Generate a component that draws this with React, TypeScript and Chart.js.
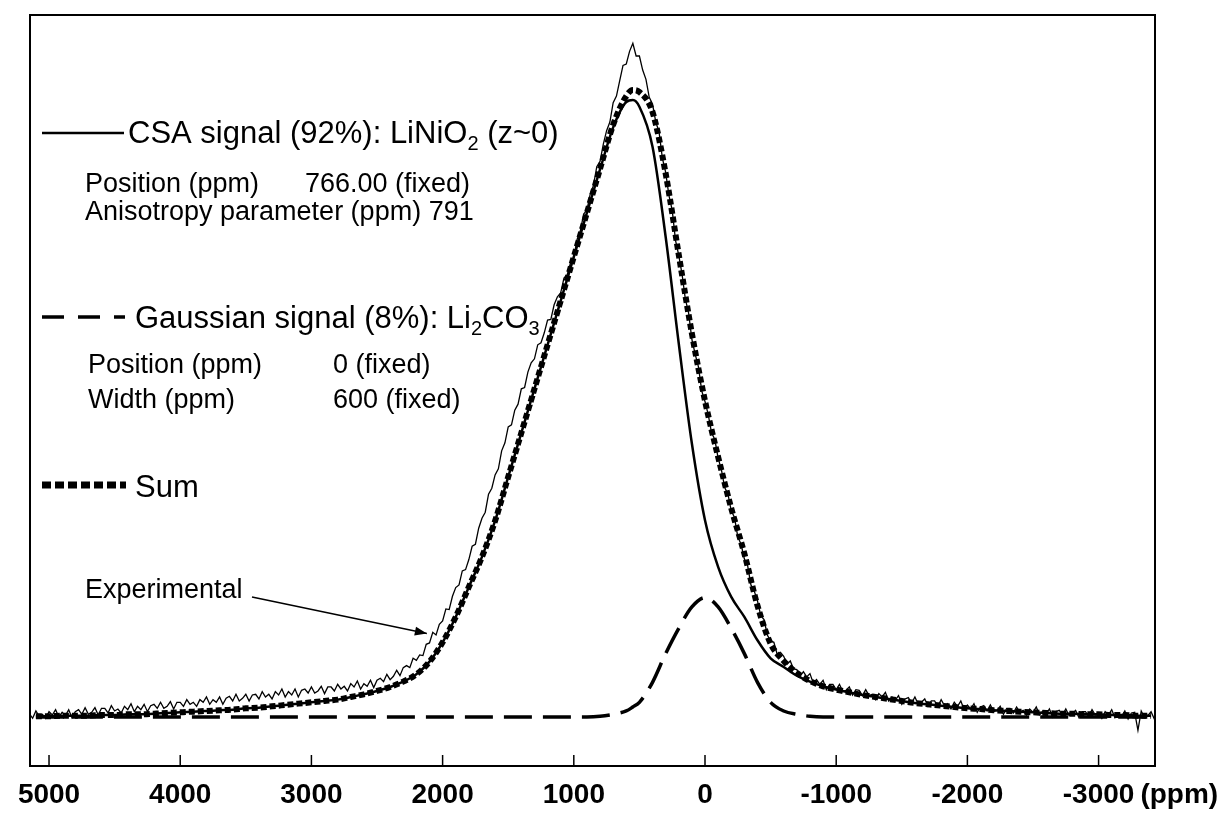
import React, { useEffect, useRef } from "react";
import { Chart, registerables } from "chart.js";

Chart.register(...registerables);

// Chemical shift grid (ppm) for the fitted model curves
const modelPpm = [
  5100, 5000, 4900, 4800, 4700, 4600, 4500, 4400, 4300, 4200,
  4100, 4000, 3900, 3800, 3700, 3600, 3500, 3400, 3300, 3200,
  3100, 3000, 2900, 2800, 2700, 2600, 2500, 2400, 2300, 2200,
  2100, 2000, 1900, 1800, 1700, 1600, 1500, 1400, 1300, 1200,
  1100, 1000, 900, 800, 700, 600, 550, 500, 400, 300,
  200, 100, 0, -100, -200, -300, -400, -500, -600, -700,
  -800, -900, -1000, -1100, -1200, -1300, -1400, -1500, -1600, -1700,
  -1800, -1900, -2000, -2100, -2200, -2300, -2400, -2500, -2600, -2700,
  -2800, -2900, -3000, -3100, -3200, -3300, -3400,
];

// CSA signal (92%): LiNiO2
const csaSignal = [
  0.001, 0.001, 0.002, 0.002, 0.002, 0.003, 0.003, 0.004, 0.004, 0.005,
  0.006, 0.007, 0.008, 0.009, 0.010, 0.011, 0.013, 0.014, 0.016, 0.018,
  0.020, 0.022, 0.024, 0.026, 0.030, 0.034, 0.039, 0.045, 0.053, 0.064,
  0.083, 0.112, 0.150, 0.195, 0.240, 0.294, 0.360, 0.426, 0.492, 0.558,
  0.624, 0.690, 0.756, 0.821, 0.884, 0.922, 0.925, 0.915, 0.855, 0.720,
  0.560, 0.410, 0.295, 0.225, 0.180, 0.150, 0.115, 0.088, 0.075, 0.062,
  0.053, 0.046, 0.041, 0.037, 0.033, 0.030, 0.027, 0.024, 0.021, 0.019,
  0.017, 0.015, 0.013, 0.012, 0.010, 0.009, 0.008, 0.007, 0.006, 0.005,
  0.005, 0.004, 0.004, 0.003, 0.003, 0.002, 0.002,
];

// Gaussian signal (8%): Li2CO3
const gaussianSignal = [
  0, 0, 0, 0, 0, 0, 0, 0, 0, 0,
  0, 0, 0, 0, 0, 0, 0, 0, 0, 0,
  0, 0, 0, 0, 0, 0, 0, 0, 0, 0,
  0, 0, 0, 0, 0, 0, 0, 0, 0, 0,
  0, 0, 0, 0.001, 0.004, 0.009, 0.015, 0.022, 0.052, 0.095,
  0.133, 0.165, 0.179, 0.165, 0.133, 0.095, 0.052, 0.022, 0.009, 0.004,
  0.001, 0, 0, 0, 0, 0, 0, 0, 0, 0,
  0, 0, 0, 0, 0, 0, 0, 0, 0, 0,
  0, 0, 0, 0, 0, 0, 0,
];

// Sum of both fitted signals
const sumSignal = [
  0.001, 0.001, 0.002, 0.002, 0.002, 0.003, 0.003, 0.004, 0.004, 0.005,
  0.006, 0.007, 0.008, 0.009, 0.010, 0.011, 0.013, 0.014, 0.016, 0.018,
  0.020, 0.022, 0.024, 0.026, 0.030, 0.034, 0.039, 0.045, 0.053, 0.064,
  0.083, 0.112, 0.150, 0.195, 0.240, 0.294, 0.360, 0.426, 0.492, 0.558,
  0.624, 0.690, 0.756, 0.822, 0.888, 0.931, 0.940, 0.937, 0.907, 0.815,
  0.693, 0.575, 0.474, 0.390, 0.313, 0.245, 0.167, 0.110, 0.084, 0.066,
  0.054, 0.046, 0.041, 0.037, 0.033, 0.030, 0.027, 0.024, 0.021, 0.019,
  0.017, 0.015, 0.013, 0.012, 0.010, 0.009, 0.008, 0.007, 0.006, 0.005,
  0.005, 0.004, 0.004, 0.003, 0.003, 0.002, 0.002,
];

// Experimental spectrum, sampled every 25 ppm starting at 5150 ppm
const expStartPpm = 5150;
const expStepPpm = 25;
const experimental = [
  0.005, -0.002, 0.009, 0.001, 0.004, -0.002, 0.008, 0.003, 0.011, 0.000, 0.007, 0.002, 0.011, -0.001, 0.008, 0.011, 0.004, 0.014, 0.004, 0.007, 0.014, 0.003, 0.013,
  0.013, 0.006, 0.017, 0.009, 0.012, 0.006, 0.016, 0.011, 0.020, 0.008, 0.016, 0.011, 0.019, 0.008, 0.017, 0.019, 0.013, 0.022, 0.013, 0.016, 0.023, 0.012, 0.022,
  0.022, 0.016, 0.026, 0.019, 0.022, 0.016, 0.026, 0.022, 0.030, 0.019, 0.026, 0.022, 0.030, 0.019, 0.028, 0.031, 0.024, 0.034, 0.024, 0.028, 0.034, 0.024, 0.033,
  0.034, 0.027, 0.038, 0.030, 0.034, 0.027, 0.038, 0.033, 0.042, 0.030, 0.038, 0.033, 0.042, 0.030, 0.040, 0.042, 0.036, 0.045, 0.036, 0.039, 0.046, 0.035, 0.045,
  0.045, 0.039, 0.049, 0.042, 0.046, 0.039, 0.050, 0.045, 0.054, 0.042, 0.050, 0.046, 0.055, 0.044, 0.055, 0.058, 0.053, 0.064, 0.056, 0.061, 0.070, 0.062, 0.074,
  0.077, 0.074, 0.088, 0.085, 0.093, 0.092, 0.109, 0.111, 0.127, 0.123, 0.139, 0.144, 0.162, 0.161, 0.181, 0.194, 0.198, 0.219, 0.221, 0.236, 0.256, 0.259, 0.283,
  0.298, 0.307, 0.334, 0.343, 0.363, 0.372, 0.399, 0.411, 0.435, 0.438, 0.460, 0.469, 0.492, 0.494, 0.517, 0.531, 0.537, 0.558, 0.561, 0.576, 0.595, 0.596, 0.618,
  0.630, 0.636, 0.658, 0.663, 0.681, 0.689, 0.716, 0.729, 0.754, 0.760, 0.784, 0.797, 0.825, 0.833, 0.859, 0.879, 0.892, 0.921, 0.931, 0.954, 0.977, 0.979, 0.998,
  1.010, 0.991, 0.991, 0.970, 0.956, 0.929, 0.919, 0.892, 0.877, 0.838, 0.817, 0.782, 0.760, 0.715, 0.692, 0.664, 0.627, 0.606, 0.566, 0.544, 0.525, 0.489, 0.473,
  0.453, 0.426, 0.416, 0.388, 0.371, 0.344, 0.334, 0.309, 0.299, 0.270, 0.259, 0.237, 0.227, 0.198, 0.189, 0.174, 0.152, 0.146, 0.123, 0.114, 0.112, 0.094, 0.097,
  0.091, 0.079, 0.084, 0.072, 0.071, 0.061, 0.068, 0.060, 0.065, 0.051, 0.056, 0.049, 0.055, 0.041, 0.049, 0.049, 0.041, 0.049, 0.038, 0.040, 0.045, 0.033, 0.041,
  0.040, 0.032, 0.041, 0.032, 0.034, 0.026, 0.035, 0.030, 0.037, 0.024, 0.030, 0.025, 0.032, 0.019, 0.027, 0.029, 0.021, 0.030, 0.019, 0.022, 0.027, 0.016, 0.024,
  0.024, 0.016, 0.026, 0.017, 0.020, 0.012, 0.022, 0.016, 0.024, 0.011, 0.018, 0.012, 0.020, 0.007, 0.015, 0.017, 0.009, 0.018, 0.008, 0.010, 0.016, 0.004, 0.013,
  0.013, 0.006, 0.015, 0.007, 0.010, 0.003, 0.012, 0.007, 0.015, 0.003, 0.009, 0.004, 0.012, 0.000, 0.008, 0.010, 0.003, 0.012, 0.002, 0.005, 0.010, -0.001, 0.008,
  0.008, 0.001, 0.011, 0.003, 0.006, -0.002, 0.008, 0.003, 0.011, -0.001, 0.006, 0.001, 0.009, -0.003, 0.006, 0.007, -0.020, 0.009, -0.001, 0.002, 0.008, -0.003, 0.006,
];

const tickValues = [5000, 4000, 3000, 2000, 1000, 0, -1000, -2000, -3000];
const tickLabels = ["5000", "4000", "3000", "2000", "1000", "0", "-1000", "-2000", "-3000"];
const unitLabel = "(ppm)";

const FONT = "'Liberation Sans', Arial, Helvetica, sans-serif";

type Part = { t: string; sub?: boolean };

function drawRich(ctx: CanvasRenderingContext2D, parts: Part[], x: number, y: number, size: number) {
  let cx = x;
  for (const p of parts) {
    if (p.sub) {
      ctx.font = `${Math.round(size * 0.65)}px ${FONT}`;
      ctx.fillText(p.t, cx, y + size * 0.22);
    } else {
      ctx.font = `${size}px ${FONT}`;
      ctx.fillText(p.t, cx, y);
    }
    cx += ctx.measureText(p.t).width;
  }
}

const overlayPlugin = {
  id: "overlay",
  afterDraw(chart: any) {
    const { ctx, chartArea: a, scales } = chart;
    const xs = scales.x;
    const ys = scales.y;
    ctx.save();
    ctx.fillStyle = "#000";
    ctx.strokeStyle = "#000";
    ctx.setLineDash([]);

    // frame
    ctx.lineWidth = 2;
    ctx.strokeRect(a.left, a.top, a.right - a.left, a.bottom - a.top);

    // inward tick marks + labels
    ctx.lineWidth = 1.5;
    ctx.textBaseline = "alphabetic";
    tickValues.forEach((v, i) => {
      const px = xs.getPixelForValue(v);
      ctx.beginPath();
      ctx.moveTo(px, a.bottom);
      ctx.lineTo(px, a.bottom - 11);
      ctx.stroke();
      ctx.font = `bold 28px ${FONT}`;
      ctx.textAlign = "center";
      ctx.fillText(tickLabels[i], px, a.bottom + 37);
      if (i === tickValues.length - 1) {
        const w = ctx.measureText(tickLabels[i]).width;
        ctx.textAlign = "left";
        ctx.fillText(unitLabel, px + w / 2 + 6, a.bottom + 37);
      }
    });

    ctx.textAlign = "left";
    ctx.textBaseline = "alphabetic";

    // legend: CSA
    ctx.lineWidth = 2.5;
    ctx.beginPath();
    ctx.moveTo(42, 133);
    ctx.lineTo(124, 133);
    ctx.stroke();
    drawRich(ctx, [{ t: "CSA signal (92%): LiNiO" }, { t: "2", sub: true }, { t: " (z~0)" }], 128, 143, 31);
    ctx.font = `27px ${FONT}`;
    ctx.fillText("Position (ppm)", 85, 192);
    ctx.fillText("766.00 (fixed)", 305, 192);
    ctx.fillText("Anisotropy parameter (ppm) 791", 85, 220);

    // legend: Gaussian
    ctx.lineWidth = 3.5;
    ctx.setLineDash([22, 14]);
    ctx.beginPath();
    ctx.moveTo(42, 317);
    ctx.lineTo(125, 317);
    ctx.stroke();
    ctx.setLineDash([]);
    drawRich(ctx, [{ t: "Gaussian signal (8%): Li" }, { t: "2", sub: true }, { t: "CO" }, { t: "3", sub: true }], 135, 328, 31);
    ctx.font = `27px ${FONT}`;
    ctx.fillText("Position (ppm)", 88, 373);
    ctx.fillText("0 (fixed)", 333, 373);
    ctx.fillText("Width (ppm)", 88, 408);
    ctx.fillText("600 (fixed)", 333, 408);

    // legend: Sum
    ctx.lineWidth = 7;
    ctx.setLineDash([9, 4]);
    ctx.beginPath();
    ctx.moveTo(42, 485);
    ctx.lineTo(126, 485);
    ctx.stroke();
    ctx.setLineDash([]);
    ctx.font = `31px ${FONT}`;
    ctx.fillText("Sum", 135, 497);

    // Experimental label + arrow pointing at the experimental trace
    ctx.font = `27px ${FONT}`;
    ctx.fillText("Experimental", 85, 598);
    const tipX = xs.getPixelForValue(2120);
    const tipY = ys.getPixelForValue(0.125);
    const sx = 252;
    const sy = 597;
    ctx.lineWidth = 1.5;
    ctx.beginPath();
    ctx.moveTo(sx, sy);
    ctx.lineTo(tipX, tipY);
    ctx.stroke();
    const ang = Math.atan2(tipY - sy, tipX - sx);
    const L = 12;
    const W = 4.5;
    ctx.beginPath();
    ctx.moveTo(tipX, tipY);
    ctx.lineTo(tipX - L * Math.cos(ang) + W * Math.sin(ang), tipY - L * Math.sin(ang) - W * Math.cos(ang));
    ctx.lineTo(tipX - L * Math.cos(ang) - W * Math.sin(ang), tipY - L * Math.sin(ang) + W * Math.cos(ang));
    ctx.closePath();
    ctx.fill();

    ctx.restore();
  },
};

export default function App() {
  const canvasRef = useRef<HTMLCanvasElement | null>(null);

  useEffect(() => {
    document.body.style.margin = "0";
    document.body.style.background = "#fff";
    const canvas = canvasRef.current;
    if (!canvas) return;

    const modelData = (vals: number[]) => modelPpm.map((p, i) => ({ x: p, y: vals[i] }));
    const expData = experimental.map((v, i) => ({ x: expStartPpm - i * expStepPpm, y: v }));

    const chart = new Chart(canvas, {
      type: "line",
      data: {
        datasets: [
          {
            label: "Sum",
            data: modelData(sumSignal),
            borderColor: "#000",
            borderWidth: 6,
            borderDash: [6, 3],
            pointRadius: 0,
            cubicInterpolationMode: "monotone",
            fill: false,
            order: 0,
          },
          {
            label: "CSA signal",
            data: modelData(csaSignal),
            borderColor: "#000",
            borderWidth: 2.5,
            pointRadius: 0,
            cubicInterpolationMode: "monotone",
            fill: false,
            order: 1,
          },
          {
            label: "Gaussian signal",
            data: modelData(gaussianSignal),
            borderColor: "#000",
            borderWidth: 3.5,
            borderDash: [28, 11],
            pointRadius: 0,
            cubicInterpolationMode: "monotone",
            fill: false,
            order: 2,
          },
          {
            label: "Experimental",
            data: expData,
            borderColor: "#000",
            borderWidth: 1.3,
            pointRadius: 0,
            tension: 0,
            fill: false,
            order: 3,
          },
        ],
      },
      options: {
        responsive: false,
        devicePixelRatio: 1,
        animation: false,
        events: [],
        layout: { padding: { left: 30, top: 15, right: 67, bottom: 47 } },
        plugins: { legend: { display: false }, tooltip: { enabled: false }, title: { display: false } },
        scales: {
          x: { type: "linear", reverse: true, min: -3430, max: 5145, display: false },
          y: { type: "linear", min: -0.0735, max: 1.0525, display: false },
        },
      },
      plugins: [overlayPlugin],
    });

    return () => chart.destroy();
  }, []);

  return <canvas ref={canvasRef} width={1222} height={813} style={{ display: "block", width: 1222, height: 813 }} />;
}
